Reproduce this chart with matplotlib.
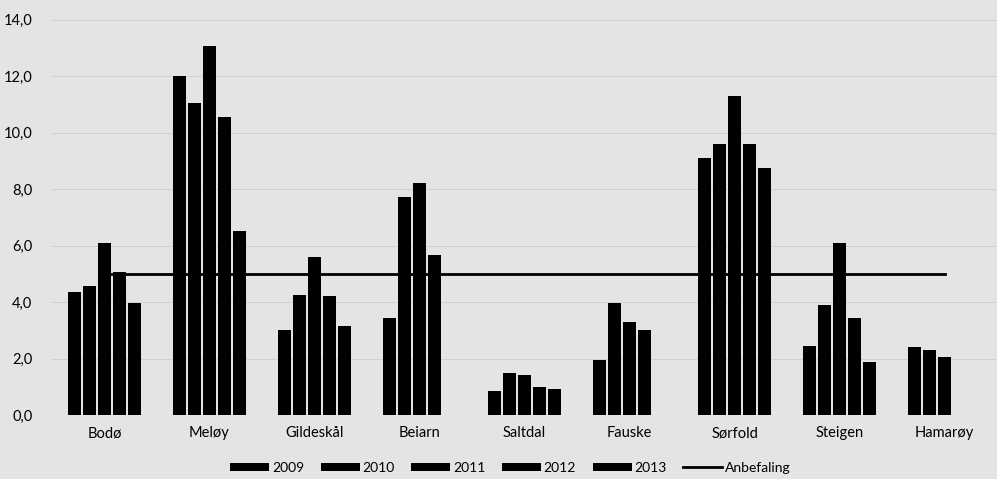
import numpy as np
import matplotlib
matplotlib.use("Agg")
import matplotlib.pyplot as plt

plt.rcParams['font.family'] = ['Lato', 'DejaVu Sans']

kommuner = ["Bodø", "Meløy", "Gildeskål", "Beiarn", "Saltdal", "Fauske",
            "Sørfold", "Steigen", "Hamarøy"]
years = ["2009", "2010", "2011", "2012", "2013"]

# values per year, NaN = no data
v2009 = [4.35, 12.0, 3.0, 3.45, 0.85, 1.95, 9.1, 2.45, 2.4]
v2010 = [4.55, 11.05, 4.25, 7.7, 1.5, 3.95, 9.6, 3.9, 2.3]
v2011 = [6.1, 13.05, 5.6, 8.2, 1.42, 3.3, 11.3, 6.1, 2.05]
v2012 = [5.05, 10.55, 4.2, 5.65, 0.98, 3.0, 9.6, 3.45, np.nan]
v2013 = [3.95, 6.5, 3.15, np.nan, 0.92, np.nan, 8.75, 1.88, np.nan]
anbefaling = [5.0] * len(kommuner)

series = [v2009, v2010, v2011, v2012, v2013]

fig = plt.figure(figsize=(9.97, 4.79), dpi=100)
bg = "#e4e4e4"
fig.patch.set_facecolor(bg)
ax = fig.add_axes([52 / 997, 64 / 479, 945 / 997, 395.5 / 479])
ax.set_facecolor(bg)

x = np.arange(len(kommuner))
slot = 0.143
width = 0.12
handles = []
for i, (yr, vals) in enumerate(zip(years, series)):
    h = ax.bar(x + (i - 2) * slot, vals, width, color="black", label=yr, zorder=3)
    handles.append(h)

line, = ax.plot(x, anbefaling, color="black", lw=2, label="Anbefaling", zorder=4)
handles.append(line)

ax.set_xlim(-0.5, len(kommuner) - 0.5)
ax.set_ylim(0, 14)
ax.set_yticks(np.arange(0, 15, 2))
ax.set_yticklabels([f"{t:.1f}".replace(".", ",") for t in np.arange(0, 15, 2)])
ax.set_xticks(x)
ax.set_xticklabels(kommuner)
ax.tick_params(axis="both", length=0, labelsize=10.5)
ax.tick_params(axis="y", pad=14)
ax.tick_params(axis="x", pad=8)
ax.grid(axis="y", color="#cdcdcd", lw=0.6, zorder=0)
for s in ax.spines.values():
    s.set_visible(False)

fig.legend(handles=handles, labels=years + ["Anbefaling"], loc="lower center",
           bbox_to_anchor=(0.512, -0.015), ncol=6, frameon=False, fontsize=10,
           handlelength=2.8, handleheight=0.55, columnspacing=1.2, handletextpad=0.2)

fig.savefig("out.png", dpi=100, facecolor=bg)
